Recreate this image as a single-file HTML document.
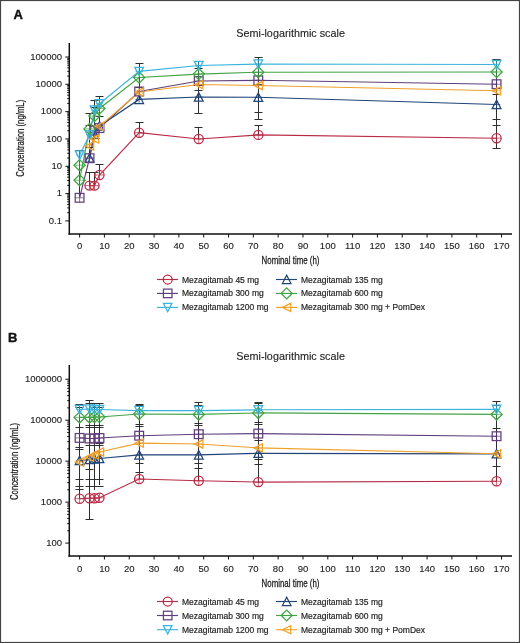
<!DOCTYPE html>
<html><head><meta charset="utf-8"><style>
html,body{margin:0;padding:0;background:#fff;}
svg{display:block;will-change:transform;}
</style></head><body>
<svg width="520" height="643" viewBox="0 0 520 643" font-family='"Liberation Sans", sans-serif'>
<rect x="0" y="0" width="520" height="643" fill="#fff"/>
<text x="13.5" y="19.3" font-size="13" font-weight="bold" fill="#111" stroke="#111" stroke-width="0.4">A</text>
<text x="290.6" y="37.3" font-size="10.8" fill="#222" stroke="#222" stroke-width="0.12" text-anchor="middle">Semi-logarithmic scale</text>
<path d="M69.3 43V234.7" stroke="#111" stroke-width="1.5" fill="none"/>
<path d="M68.5 234H512" stroke="#111" stroke-width="1.5" fill="none"/>
<text x="62" y="223.72" font-size="9.5" fill="#222" stroke="#222" stroke-width="0.12" text-anchor="end">0.1</text>
<text x="62" y="196.40" font-size="9.5" fill="#222" stroke="#222" stroke-width="0.12" text-anchor="end">1</text>
<text x="62" y="169.08" font-size="9.5" fill="#222" stroke="#222" stroke-width="0.12" text-anchor="end">10</text>
<text x="62" y="141.76" font-size="9.5" fill="#222" stroke="#222" stroke-width="0.12" text-anchor="end">100</text>
<text x="62" y="114.44" font-size="9.5" fill="#222" stroke="#222" stroke-width="0.12" text-anchor="end">1000</text>
<text x="62" y="87.12" font-size="9.5" fill="#222" stroke="#222" stroke-width="0.12" text-anchor="end">10000</text>
<text x="62" y="59.80" font-size="9.5" fill="#222" stroke="#222" stroke-width="0.12" text-anchor="end">100000</text>
<path d="M65.3 220.92H69 M65.3 193.60H69 M65.3 166.28H69 M65.3 138.96H69 M65.3 111.64H69 M65.3 84.32H69 M65.3 57.00H69 M67.2 212.70H69 M67.2 207.89H69 M67.2 204.47H69 M67.2 201.82H69 M67.2 199.66H69 M67.2 197.83H69 M67.2 196.25H69 M67.2 194.85H69 M67.2 185.38H69 M67.2 180.57H69 M67.2 177.15H69 M67.2 174.50H69 M67.2 172.34H69 M67.2 170.51H69 M67.2 168.93H69 M67.2 167.53H69 M67.2 158.06H69 M67.2 153.25H69 M67.2 149.83H69 M67.2 147.18H69 M67.2 145.02H69 M67.2 143.19H69 M67.2 141.61H69 M67.2 140.21H69 M67.2 130.74H69 M67.2 125.93H69 M67.2 122.51H69 M67.2 119.86H69 M67.2 117.70H69 M67.2 115.87H69 M67.2 114.29H69 M67.2 112.89H69 M67.2 103.42H69 M67.2 98.61H69 M67.2 95.19H69 M67.2 92.54H69 M67.2 90.38H69 M67.2 88.55H69 M67.2 86.97H69 M67.2 85.57H69 M67.2 76.10H69 M67.2 71.29H69 M67.2 67.87H69 M67.2 65.22H69 M67.2 63.06H69 M67.2 61.23H69 M67.2 59.65H69 M67.2 58.25H69" stroke="#111" stroke-width="1" fill="none"/>
<text x="79.60" y="249.3" font-size="9.5" fill="#222" stroke="#222" stroke-width="0.12" text-anchor="middle">0</text>
<text x="104.42" y="249.3" font-size="9.5" fill="#222" stroke="#222" stroke-width="0.12" text-anchor="middle">10</text>
<text x="129.24" y="249.3" font-size="9.5" fill="#222" stroke="#222" stroke-width="0.12" text-anchor="middle">20</text>
<text x="154.06" y="249.3" font-size="9.5" fill="#222" stroke="#222" stroke-width="0.12" text-anchor="middle">30</text>
<text x="178.88" y="249.3" font-size="9.5" fill="#222" stroke="#222" stroke-width="0.12" text-anchor="middle">40</text>
<text x="203.70" y="249.3" font-size="9.5" fill="#222" stroke="#222" stroke-width="0.12" text-anchor="middle">50</text>
<text x="228.52" y="249.3" font-size="9.5" fill="#222" stroke="#222" stroke-width="0.12" text-anchor="middle">60</text>
<text x="253.34" y="249.3" font-size="9.5" fill="#222" stroke="#222" stroke-width="0.12" text-anchor="middle">70</text>
<text x="278.16" y="249.3" font-size="9.5" fill="#222" stroke="#222" stroke-width="0.12" text-anchor="middle">80</text>
<text x="302.98" y="249.3" font-size="9.5" fill="#222" stroke="#222" stroke-width="0.12" text-anchor="middle">90</text>
<text x="327.80" y="249.3" font-size="9.5" fill="#222" stroke="#222" stroke-width="0.12" text-anchor="middle">100</text>
<text x="352.62" y="249.3" font-size="9.5" fill="#222" stroke="#222" stroke-width="0.12" text-anchor="middle">110</text>
<text x="377.44" y="249.3" font-size="9.5" fill="#222" stroke="#222" stroke-width="0.12" text-anchor="middle">120</text>
<text x="402.26" y="249.3" font-size="9.5" fill="#222" stroke="#222" stroke-width="0.12" text-anchor="middle">130</text>
<text x="427.08" y="249.3" font-size="9.5" fill="#222" stroke="#222" stroke-width="0.12" text-anchor="middle">140</text>
<text x="451.90" y="249.3" font-size="9.5" fill="#222" stroke="#222" stroke-width="0.12" text-anchor="middle">150</text>
<text x="476.72" y="249.3" font-size="9.5" fill="#222" stroke="#222" stroke-width="0.12" text-anchor="middle">160</text>
<text x="501.54" y="249.3" font-size="9.5" fill="#222" stroke="#222" stroke-width="0.12" text-anchor="middle">170</text>
<path d="M79.60 234V237.5 M104.42 234V237.5 M129.24 234V237.5 M154.06 234V237.5 M178.88 234V237.5 M203.70 234V237.5 M228.52 234V237.5 M253.34 234V237.5 M278.16 234V237.5 M302.98 234V237.5 M327.80 234V237.5 M352.62 234V237.5 M377.44 234V237.5 M402.26 234V237.5 M427.08 234V237.5 M451.90 234V237.5 M476.72 234V237.5 M501.54 234V237.5" stroke="#111" stroke-width="1" fill="none"/>
<text x="0" y="0" font-size="10.2" fill="#1a1a1a" stroke="#1a1a1a" stroke-width="0.25" text-anchor="middle" transform="translate(290.5 264.4) scale(0.775 1)">Nominal time (h)</text>
<text x="0" y="0" font-size="10.2" fill="#1a1a1a" stroke="#1a1a1a" stroke-width="0.25" text-anchor="middle" transform="translate(20.5 138.3) rotate(-90) scale(0.76 1) translate(0 3.6)">Concentration (ng/mL)</text>
<path d="M89.53 185.60L94.49 185.60L99.46 175.00L139.17 132.70L198.74 139.00L258.30 134.90L496.58 138.20" stroke="#b92b45" stroke-width="1.15" fill="none"/>
<path d="M89.53 158.06L94.49 134.15L99.46 125.93L139.17 99.40L198.74 97.00L258.30 97.30L496.58 104.50" stroke="#214578" stroke-width="1.15" fill="none"/>
<path d="M79.60 197.80L89.53 158.20L94.49 130.74L99.46 128.09L139.17 91.50L198.74 81.00L258.30 80.30L496.58 84.20" stroke="#603f7c" stroke-width="1.15" fill="none"/>
<path d="M79.60 180.20L89.53 128.90L94.49 116.00L99.46 108.50L139.17 77.50L198.74 74.10L258.30 72.20L496.58 72.00" stroke="#42a444" stroke-width="1.15" fill="none"/>
<path d="M79.60 155.00L89.53 135.00L94.49 110.00L99.46 103.70L139.17 71.40L198.74 65.50L258.30 64.00L496.58 64.50" stroke="#3ab4dc" stroke-width="1.15" fill="none"/>
<path d="M89.53 146.05L94.49 138.96L99.46 126.33L139.17 92.00L198.74 84.50L258.30 85.50L496.58 90.80" stroke="#f0a22a" stroke-width="1.15" fill="none"/>
<path d="M79.50 150.70V196.00 M89.50 113.00V158.00 M89.50 172.20V185.60 M94.50 100.40V125.00 M94.50 172.20V185.60 M99.50 96.70V127.00 M99.50 164.80V175.00 M139.50 63.50V99.40 M139.50 122.70V132.70 M198.50 61.20V113.00 M198.50 127.40V139.00 M258.50 57.10V119.30 M258.50 125.60V134.90 M496.50 59.00V148.90" stroke="#2e2e2e" stroke-width="1" fill="none"/>
<path d="M75.50 150.50H83.50 M85.50 113.50H93.50 M85.50 125.50H93.50 M85.50 147.50H93.50 M85.50 172.50H93.50 M90.50 100.50H98.50 M90.50 107.50H98.50 M90.50 172.50H98.50 M95.50 96.50H103.50 M95.50 116.50H103.50 M95.50 164.50H103.50 M135.50 63.50H143.50 M135.50 87.50H143.50 M135.50 122.50H143.50 M194.50 61.50H202.50 M194.50 68.50H202.50 M194.50 90.50H202.50 M194.50 113.50H202.50 M194.50 127.50H202.50 M254.50 57.50H262.50 M254.50 112.50H262.50 M254.50 119.50H262.50 M254.50 125.50H262.50 M492.50 59.50H500.50 M492.50 94.50H500.50 M492.50 119.50H500.50 M492.50 125.50H500.50 M492.50 148.50H500.50" stroke="#2e2e2e" stroke-width="1.1" fill="none"/>
<circle cx="89.53" cy="185.60" r="4.60" fill="none" stroke="#b92b45" stroke-width="1.25"/><path d="M84.93 185.60H94.13M89.53 181.00V190.20" stroke="#b92b45" stroke-width="0.7" fill="none"/>
<circle cx="94.49" cy="185.60" r="4.60" fill="none" stroke="#b92b45" stroke-width="1.25"/><path d="M89.89 185.60H99.09M94.49 181.00V190.20" stroke="#b92b45" stroke-width="0.7" fill="none"/>
<circle cx="99.46" cy="175.00" r="4.60" fill="none" stroke="#b92b45" stroke-width="1.25"/><path d="M94.86 175.00H104.06M99.46 170.40V179.60" stroke="#b92b45" stroke-width="0.7" fill="none"/>
<circle cx="139.17" cy="132.70" r="4.60" fill="none" stroke="#b92b45" stroke-width="1.25"/><path d="M134.57 132.70H143.77M139.17 128.10V137.30" stroke="#b92b45" stroke-width="0.7" fill="none"/>
<circle cx="198.74" cy="139.00" r="4.60" fill="none" stroke="#b92b45" stroke-width="1.25"/><path d="M194.14 139.00H203.34M198.74 134.40V143.60" stroke="#b92b45" stroke-width="0.7" fill="none"/>
<circle cx="258.30" cy="134.90" r="4.60" fill="none" stroke="#b92b45" stroke-width="1.25"/><path d="M253.70 134.90H262.90M258.30 130.30V139.50" stroke="#b92b45" stroke-width="0.7" fill="none"/>
<circle cx="496.58" cy="138.20" r="4.60" fill="none" stroke="#b92b45" stroke-width="1.25"/><path d="M491.98 138.20H501.18M496.58 133.60V142.80" stroke="#b92b45" stroke-width="0.7" fill="none"/>
<path d="M89.53 153.69L93.90 162.20L85.16 162.20Z" fill="none" stroke="#214578" stroke-width="1.25"/><path d="M85.85 158.06H93.21M89.53 154.38V161.74" stroke="#214578" stroke-width="0.7" fill="none"/>
<path d="M94.49 129.78L98.86 138.29L90.12 138.29Z" fill="none" stroke="#214578" stroke-width="1.25"/><path d="M90.81 134.15H98.17M94.49 130.47V137.83" stroke="#214578" stroke-width="0.7" fill="none"/>
<path d="M99.46 121.56L103.83 130.07L95.09 130.07Z" fill="none" stroke="#214578" stroke-width="1.25"/><path d="M95.78 125.93H103.14M99.46 122.25V129.61" stroke="#214578" stroke-width="0.7" fill="none"/>
<path d="M139.17 95.03L143.54 103.54L134.80 103.54Z" fill="none" stroke="#214578" stroke-width="1.25"/><path d="M135.49 99.40H142.85M139.17 95.72V103.08" stroke="#214578" stroke-width="0.7" fill="none"/>
<path d="M198.74 92.63L203.11 101.14L194.37 101.14Z" fill="none" stroke="#214578" stroke-width="1.25"/><path d="M195.06 97.00H202.42M198.74 93.32V100.68" stroke="#214578" stroke-width="0.7" fill="none"/>
<path d="M258.30 92.93L262.67 101.44L253.93 101.44Z" fill="none" stroke="#214578" stroke-width="1.25"/><path d="M254.62 97.30H261.98M258.30 93.62V100.98" stroke="#214578" stroke-width="0.7" fill="none"/>
<path d="M496.58 100.13L500.95 108.64L492.21 108.64Z" fill="none" stroke="#214578" stroke-width="1.25"/><path d="M492.90 104.50H500.26M496.58 100.82V108.18" stroke="#214578" stroke-width="0.7" fill="none"/>
<rect x="75.23" y="193.43" width="8.74" height="8.74" fill="none" stroke="#603f7c" stroke-width="1.25"/><path d="M75.23 197.80H83.97M79.60 193.43V202.17" stroke="#603f7c" stroke-width="0.7" fill="none"/>
<rect x="85.16" y="153.83" width="8.74" height="8.74" fill="none" stroke="#603f7c" stroke-width="1.25"/><path d="M85.16 158.20H93.90M89.53 153.83V162.57" stroke="#603f7c" stroke-width="0.7" fill="none"/>
<rect x="90.12" y="126.37" width="8.74" height="8.74" fill="none" stroke="#603f7c" stroke-width="1.25"/><path d="M90.12 130.74H98.86M94.49 126.37V135.11" stroke="#603f7c" stroke-width="0.7" fill="none"/>
<rect x="95.09" y="123.72" width="8.74" height="8.74" fill="none" stroke="#603f7c" stroke-width="1.25"/><path d="M95.09 128.09H103.83M99.46 123.72V132.46" stroke="#603f7c" stroke-width="0.7" fill="none"/>
<rect x="134.80" y="87.13" width="8.74" height="8.74" fill="none" stroke="#603f7c" stroke-width="1.25"/><path d="M134.80 91.50H143.54M139.17 87.13V95.87" stroke="#603f7c" stroke-width="0.7" fill="none"/>
<rect x="194.37" y="76.63" width="8.74" height="8.74" fill="none" stroke="#603f7c" stroke-width="1.25"/><path d="M194.37 81.00H203.11M198.74 76.63V85.37" stroke="#603f7c" stroke-width="0.7" fill="none"/>
<rect x="253.93" y="75.93" width="8.74" height="8.74" fill="none" stroke="#603f7c" stroke-width="1.25"/><path d="M253.93 80.30H262.67M258.30 75.93V84.67" stroke="#603f7c" stroke-width="0.7" fill="none"/>
<rect x="492.21" y="79.83" width="8.74" height="8.74" fill="none" stroke="#603f7c" stroke-width="1.25"/><path d="M492.21 84.20H500.95M496.58 79.83V88.57" stroke="#603f7c" stroke-width="0.7" fill="none"/>
<path d="M73.99 180.20L79.60 174.59L85.21 180.20L79.60 185.81Z" fill="none" stroke="#42a444" stroke-width="1.25"/><path d="M73.99 180.20H85.21M79.60 174.59V185.81" stroke="#42a444" stroke-width="0.7" fill="none"/>
<path d="M83.92 128.90L89.53 123.29L95.14 128.90L89.53 134.51Z" fill="none" stroke="#42a444" stroke-width="1.25"/><path d="M83.92 128.90H95.14M89.53 123.29V134.51" stroke="#42a444" stroke-width="0.7" fill="none"/>
<path d="M88.88 116.00L94.49 110.39L100.10 116.00L94.49 121.61Z" fill="none" stroke="#42a444" stroke-width="1.25"/><path d="M88.88 116.00H100.10M94.49 110.39V121.61" stroke="#42a444" stroke-width="0.7" fill="none"/>
<path d="M93.84 108.50L99.46 102.89L105.07 108.50L99.46 114.11Z" fill="none" stroke="#42a444" stroke-width="1.25"/><path d="M93.84 108.50H105.07M99.46 102.89V114.11" stroke="#42a444" stroke-width="0.7" fill="none"/>
<path d="M133.56 77.50L139.17 71.89L144.78 77.50L139.17 83.11Z" fill="none" stroke="#42a444" stroke-width="1.25"/><path d="M133.56 77.50H144.78M139.17 71.89V83.11" stroke="#42a444" stroke-width="0.7" fill="none"/>
<path d="M193.12 74.10L198.74 68.49L204.35 74.10L198.74 79.71Z" fill="none" stroke="#42a444" stroke-width="1.25"/><path d="M193.12 74.10H204.35M198.74 68.49V79.71" stroke="#42a444" stroke-width="0.7" fill="none"/>
<path d="M252.69 72.20L258.30 66.59L263.92 72.20L258.30 77.81Z" fill="none" stroke="#42a444" stroke-width="1.25"/><path d="M252.69 72.20H263.92M258.30 66.59V77.81" stroke="#42a444" stroke-width="0.7" fill="none"/>
<path d="M490.96 72.00L496.58 66.39L502.19 72.00L496.58 77.61Z" fill="none" stroke="#42a444" stroke-width="1.25"/><path d="M490.96 72.00H502.19M496.58 66.39V77.61" stroke="#42a444" stroke-width="0.7" fill="none"/>
<path d="M79.60 159.37L83.97 150.86L75.23 150.86Z" fill="none" stroke="#3ab4dc" stroke-width="1.25"/><path d="M75.92 155.00H83.28M79.60 151.32V158.68" stroke="#3ab4dc" stroke-width="0.7" fill="none"/>
<path d="M89.53 139.37L93.90 130.86L85.16 130.86Z" fill="none" stroke="#3ab4dc" stroke-width="1.25"/><path d="M85.85 135.00H93.21M89.53 131.32V138.68" stroke="#3ab4dc" stroke-width="0.7" fill="none"/>
<path d="M94.49 114.37L98.86 105.86L90.12 105.86Z" fill="none" stroke="#3ab4dc" stroke-width="1.25"/><path d="M90.81 110.00H98.17M94.49 106.32V113.68" stroke="#3ab4dc" stroke-width="0.7" fill="none"/>
<path d="M99.46 108.07L103.83 99.56L95.09 99.56Z" fill="none" stroke="#3ab4dc" stroke-width="1.25"/><path d="M95.78 103.70H103.14M99.46 100.02V107.38" stroke="#3ab4dc" stroke-width="0.7" fill="none"/>
<path d="M139.17 75.77L143.54 67.26L134.80 67.26Z" fill="none" stroke="#3ab4dc" stroke-width="1.25"/><path d="M135.49 71.40H142.85M139.17 67.72V75.08" stroke="#3ab4dc" stroke-width="0.7" fill="none"/>
<path d="M198.74 69.87L203.11 61.36L194.37 61.36Z" fill="none" stroke="#3ab4dc" stroke-width="1.25"/><path d="M195.06 65.50H202.42M198.74 61.82V69.18" stroke="#3ab4dc" stroke-width="0.7" fill="none"/>
<path d="M258.30 68.37L262.67 59.86L253.93 59.86Z" fill="none" stroke="#3ab4dc" stroke-width="1.25"/><path d="M254.62 64.00H261.98M258.30 60.32V67.68" stroke="#3ab4dc" stroke-width="0.7" fill="none"/>
<path d="M496.58 68.87L500.95 60.36L492.21 60.36Z" fill="none" stroke="#3ab4dc" stroke-width="1.25"/><path d="M492.90 64.50H500.26M496.58 60.82V68.18" stroke="#3ab4dc" stroke-width="0.7" fill="none"/>
<path d="M85.16 146.05L93.67 141.91L93.67 150.19Z" fill="none" stroke="#f0a22a" stroke-width="1.25"/><path d="M85.85 146.05H93.21M89.53 142.37V149.73" stroke="#f0a22a" stroke-width="0.7" fill="none"/>
<path d="M90.12 138.96L98.63 134.82L98.63 143.10Z" fill="none" stroke="#f0a22a" stroke-width="1.25"/><path d="M90.81 138.96H98.17M94.49 135.28V142.64" stroke="#f0a22a" stroke-width="0.7" fill="none"/>
<path d="M95.09 126.33L103.60 122.19L103.60 130.47Z" fill="none" stroke="#f0a22a" stroke-width="1.25"/><path d="M95.78 126.33H103.14M99.46 122.65V130.01" stroke="#f0a22a" stroke-width="0.7" fill="none"/>
<path d="M134.80 92.00L143.31 87.86L143.31 96.14Z" fill="none" stroke="#f0a22a" stroke-width="1.25"/><path d="M135.49 92.00H142.85M139.17 88.32V95.68" stroke="#f0a22a" stroke-width="0.7" fill="none"/>
<path d="M194.37 84.50L202.88 80.36L202.88 88.64Z" fill="none" stroke="#f0a22a" stroke-width="1.25"/><path d="M195.06 84.50H202.42M198.74 80.82V88.18" stroke="#f0a22a" stroke-width="0.7" fill="none"/>
<path d="M253.93 85.50L262.44 81.36L262.44 89.64Z" fill="none" stroke="#f0a22a" stroke-width="1.25"/><path d="M254.62 85.50H261.98M258.30 81.82V89.18" stroke="#f0a22a" stroke-width="0.7" fill="none"/>
<path d="M492.21 90.80L500.72 86.66L500.72 94.94Z" fill="none" stroke="#f0a22a" stroke-width="1.25"/><path d="M492.90 90.80H500.26M496.58 87.12V94.48" stroke="#f0a22a" stroke-width="0.7" fill="none"/>
<path d="M73.99 165.20L79.60 159.59L85.21 165.20L79.60 170.81Z" fill="none" stroke="#42a444" stroke-width="1.25"/><path d="M73.99 165.20H85.21M79.60 159.59V170.81" stroke="#42a444" stroke-width="0.7" fill="none"/>
<path d="M157 279.5H178" stroke="#b92b45" stroke-width="1.15"/>
<circle cx="167.70" cy="279.50" r="4.50" fill="none" stroke="#b92b45" stroke-width="1.25"/>
<text x="182" y="282.5" font-size="8.5" fill="#1e1e1e" stroke="#1e1e1e" stroke-width="0.18">Mezagitamab 45 mg</text>
<path d="M157 293.4H178" stroke="#603f7c" stroke-width="1.15"/>
<rect x="163.42" y="289.12" width="8.55" height="8.55" fill="none" stroke="#603f7c" stroke-width="1.25"/>
<text x="182" y="296.4" font-size="8.5" fill="#1e1e1e" stroke="#1e1e1e" stroke-width="0.18">Mezagitamab 300 mg</text>
<path d="M157 307.4H178" stroke="#3ab4dc" stroke-width="1.15"/>
<path d="M167.70 311.67L171.97 303.35L163.42 303.35Z" fill="none" stroke="#3ab4dc" stroke-width="1.25"/>
<text x="182" y="310.4" font-size="8.5" fill="#1e1e1e" stroke="#1e1e1e" stroke-width="0.18">Mezagitamab 1200 mg</text>
<path d="M276 279.5H297" stroke="#214578" stroke-width="1.15"/>
<path d="M286.70 275.23L290.97 283.55L282.43 283.55Z" fill="none" stroke="#214578" stroke-width="1.25"/>
<text x="301" y="282.5" font-size="8.5" fill="#1e1e1e" stroke="#1e1e1e" stroke-width="0.18">Mezagitamab 135 mg</text>
<path d="M276 293.4H297" stroke="#42a444" stroke-width="1.15"/>
<path d="M281.21 293.40L286.70 287.91L292.19 293.40L286.70 298.89Z" fill="none" stroke="#42a444" stroke-width="1.25"/>
<text x="301" y="296.4" font-size="8.5" fill="#1e1e1e" stroke="#1e1e1e" stroke-width="0.18">Mezagitamab 600 mg</text>
<path d="M276 307.4H297" stroke="#f0a22a" stroke-width="1.15"/>
<path d="M282.43 307.40L290.75 303.35L290.75 311.45Z" fill="none" stroke="#f0a22a" stroke-width="1.25"/>
<text x="301" y="310.4" font-size="8.5" fill="#1e1e1e" stroke="#1e1e1e" stroke-width="0.18">Mezagitamab 300 mg + PomDex</text>
<text x="8.0" y="341.9" font-size="13" font-weight="bold" fill="#111" stroke="#111" stroke-width="0.4">B</text>
<text x="290.6" y="359.6" font-size="10.8" fill="#222" stroke="#222" stroke-width="0.12" text-anchor="middle">Semi-logarithmic scale</text>
<path d="M69.3 365V556.7" stroke="#111" stroke-width="1.5" fill="none"/>
<path d="M68.5 556H512" stroke="#111" stroke-width="1.5" fill="none"/>
<text x="62" y="545.90" font-size="9.5" fill="#222" stroke="#222" stroke-width="0.12" text-anchor="end">100</text>
<text x="62" y="504.93" font-size="9.5" fill="#222" stroke="#222" stroke-width="0.12" text-anchor="end">1000</text>
<text x="62" y="463.96" font-size="9.5" fill="#222" stroke="#222" stroke-width="0.12" text-anchor="end">10000</text>
<text x="62" y="422.99" font-size="9.5" fill="#222" stroke="#222" stroke-width="0.12" text-anchor="end">100000</text>
<text x="62" y="382.02" font-size="9.5" fill="#222" stroke="#222" stroke-width="0.12" text-anchor="end">1000000</text>
<path d="M65.3 543.10H69 M65.3 502.13H69 M65.3 461.16H69 M65.3 420.19H69 M65.3 379.22H69 M67.2 530.77H69 M67.2 523.55H69 M67.2 518.43H69 M67.2 514.46H69 M67.2 511.22H69 M67.2 508.48H69 M67.2 506.10H69 M67.2 504.00H69 M67.2 489.80H69 M67.2 482.58H69 M67.2 477.46H69 M67.2 473.49H69 M67.2 470.25H69 M67.2 467.51H69 M67.2 465.13H69 M67.2 463.03H69 M67.2 448.83H69 M67.2 441.61H69 M67.2 436.49H69 M67.2 432.52H69 M67.2 429.28H69 M67.2 426.54H69 M67.2 424.16H69 M67.2 422.06H69 M67.2 407.86H69 M67.2 400.64H69 M67.2 395.52H69 M67.2 391.55H69 M67.2 388.31H69 M67.2 385.57H69 M67.2 383.19H69 M67.2 381.09H69" stroke="#111" stroke-width="1" fill="none"/>
<text x="79.60" y="571.7" font-size="9.5" fill="#222" stroke="#222" stroke-width="0.12" text-anchor="middle">0</text>
<text x="104.42" y="571.7" font-size="9.5" fill="#222" stroke="#222" stroke-width="0.12" text-anchor="middle">10</text>
<text x="129.24" y="571.7" font-size="9.5" fill="#222" stroke="#222" stroke-width="0.12" text-anchor="middle">20</text>
<text x="154.06" y="571.7" font-size="9.5" fill="#222" stroke="#222" stroke-width="0.12" text-anchor="middle">30</text>
<text x="178.88" y="571.7" font-size="9.5" fill="#222" stroke="#222" stroke-width="0.12" text-anchor="middle">40</text>
<text x="203.70" y="571.7" font-size="9.5" fill="#222" stroke="#222" stroke-width="0.12" text-anchor="middle">50</text>
<text x="228.52" y="571.7" font-size="9.5" fill="#222" stroke="#222" stroke-width="0.12" text-anchor="middle">60</text>
<text x="253.34" y="571.7" font-size="9.5" fill="#222" stroke="#222" stroke-width="0.12" text-anchor="middle">70</text>
<text x="278.16" y="571.7" font-size="9.5" fill="#222" stroke="#222" stroke-width="0.12" text-anchor="middle">80</text>
<text x="302.98" y="571.7" font-size="9.5" fill="#222" stroke="#222" stroke-width="0.12" text-anchor="middle">90</text>
<text x="327.80" y="571.7" font-size="9.5" fill="#222" stroke="#222" stroke-width="0.12" text-anchor="middle">100</text>
<text x="352.62" y="571.7" font-size="9.5" fill="#222" stroke="#222" stroke-width="0.12" text-anchor="middle">110</text>
<text x="377.44" y="571.7" font-size="9.5" fill="#222" stroke="#222" stroke-width="0.12" text-anchor="middle">120</text>
<text x="402.26" y="571.7" font-size="9.5" fill="#222" stroke="#222" stroke-width="0.12" text-anchor="middle">130</text>
<text x="427.08" y="571.7" font-size="9.5" fill="#222" stroke="#222" stroke-width="0.12" text-anchor="middle">140</text>
<text x="451.90" y="571.7" font-size="9.5" fill="#222" stroke="#222" stroke-width="0.12" text-anchor="middle">150</text>
<text x="476.72" y="571.7" font-size="9.5" fill="#222" stroke="#222" stroke-width="0.12" text-anchor="middle">160</text>
<text x="501.54" y="571.7" font-size="9.5" fill="#222" stroke="#222" stroke-width="0.12" text-anchor="middle">170</text>
<path d="M79.60 556V559.5 M104.42 556V559.5 M129.24 556V559.5 M154.06 556V559.5 M178.88 556V559.5 M203.70 556V559.5 M228.52 556V559.5 M253.34 556V559.5 M278.16 556V559.5 M302.98 556V559.5 M327.80 556V559.5 M352.62 556V559.5 M377.44 556V559.5 M402.26 556V559.5 M427.08 556V559.5 M451.90 556V559.5 M476.72 556V559.5 M501.54 556V559.5" stroke="#111" stroke-width="1" fill="none"/>
<text x="0" y="0" font-size="10.2" fill="#1a1a1a" stroke="#1a1a1a" stroke-width="0.25" text-anchor="middle" transform="translate(290.5 586.5) scale(0.775 1)">Nominal time (h)</text>
<text x="0" y="0" font-size="10.2" fill="#1a1a1a" stroke="#1a1a1a" stroke-width="0.25" text-anchor="middle" transform="translate(14.4 461.5) rotate(-90) scale(0.76 1) translate(0 3.6)">Concentration (ng/mL)</text>
<path d="M79.60 498.70L89.53 498.20L94.49 498.20L99.46 497.80L139.17 479.00L198.74 480.80L258.30 482.10L496.58 481.30" stroke="#b92b45" stroke-width="1.15" fill="none"/>
<path d="M79.60 460.50L89.53 459.60L94.49 459.00L99.46 458.50L139.17 454.90L198.74 454.90L258.30 453.30L496.58 453.80" stroke="#214578" stroke-width="1.15" fill="none"/>
<path d="M79.60 437.90L89.53 438.50L94.49 438.50L99.46 438.00L139.17 435.70L198.74 434.20L258.30 433.60L496.58 436.20" stroke="#603f7c" stroke-width="1.15" fill="none"/>
<path d="M79.60 417.40L89.53 417.40L94.49 417.00L99.46 417.00L139.17 414.00L198.74 414.40L258.30 412.90L496.58 414.40" stroke="#42a444" stroke-width="1.15" fill="none"/>
<path d="M79.60 409.50L89.53 409.00L94.49 409.50L99.46 409.50L139.17 410.60L198.74 410.60L258.30 409.80L496.58 409.30" stroke="#3ab4dc" stroke-width="1.15" fill="none"/>
<path d="M79.60 462.00L89.53 457.00L94.49 455.00L99.46 452.00L139.17 443.20L198.74 444.00L258.30 447.90L496.58 453.80" stroke="#f0a22a" stroke-width="1.15" fill="none"/>
<path d="M79.50 404.70V498.70 M89.50 400.60V519.70 M94.50 403.00V490.00 M99.50 403.00V485.00 M139.50 404.30V479.00 M198.50 402.80V480.80 M258.50 402.00V482.10 M496.50 401.20V481.30" stroke="#2e2e2e" stroke-width="1" fill="none"/>
<path d="M75.50 404.50H83.50 M75.50 407.50H83.50 M75.50 427.50H83.50 M75.50 447.50H83.50 M75.50 449.50H83.50 M75.50 479.50H83.50 M75.50 486.50H83.50 M75.50 489.50H83.50 M85.50 400.50H93.50 M85.50 403.50H93.50 M85.50 425.50H93.50 M85.50 427.50H93.50 M85.50 445.50H93.50 M85.50 469.50H93.50 M85.50 479.50H93.50 M85.50 486.50H93.50 M85.50 519.50H93.50 M90.50 403.50H98.50 M90.50 407.50H98.50 M90.50 425.50H98.50 M90.50 427.50H98.50 M90.50 445.50H98.50 M90.50 479.50H98.50 M90.50 486.50H98.50 M95.50 403.50H103.50 M95.50 407.50H103.50 M95.50 425.50H103.50 M95.50 427.50H103.50 M95.50 443.50H103.50 M95.50 445.50H103.50 M95.50 479.50H103.50 M95.50 486.50H103.50 M135.50 404.50H143.50 M135.50 405.50H143.50 M135.50 424.50H143.50 M135.50 426.50H143.50 M135.50 463.50H143.50 M135.50 472.50H143.50 M194.50 402.50H202.50 M194.50 405.50H202.50 M194.50 423.50H202.50 M194.50 425.50H202.50 M194.50 463.50H202.50 M194.50 468.50H202.50 M254.50 402.50H262.50 M254.50 403.50H262.50 M254.50 422.50H262.50 M254.50 424.50H262.50 M254.50 440.50H262.50 M254.50 459.50H262.50 M254.50 464.50H262.50 M492.50 401.50H500.50 M492.50 405.50H500.50 M492.50 428.50H500.50 M492.50 466.50H500.50" stroke="#2e2e2e" stroke-width="1.1" fill="none"/>
<circle cx="79.60" cy="498.70" r="4.60" fill="none" stroke="#b92b45" stroke-width="1.25"/><path d="M75.00 498.70H84.20M79.60 494.10V503.30" stroke="#b92b45" stroke-width="0.7" fill="none"/>
<circle cx="89.53" cy="498.20" r="4.60" fill="none" stroke="#b92b45" stroke-width="1.25"/><path d="M84.93 498.20H94.13M89.53 493.60V502.80" stroke="#b92b45" stroke-width="0.7" fill="none"/>
<circle cx="94.49" cy="498.20" r="4.60" fill="none" stroke="#b92b45" stroke-width="1.25"/><path d="M89.89 498.20H99.09M94.49 493.60V502.80" stroke="#b92b45" stroke-width="0.7" fill="none"/>
<circle cx="99.46" cy="497.80" r="4.60" fill="none" stroke="#b92b45" stroke-width="1.25"/><path d="M94.86 497.80H104.06M99.46 493.20V502.40" stroke="#b92b45" stroke-width="0.7" fill="none"/>
<circle cx="139.17" cy="479.00" r="4.60" fill="none" stroke="#b92b45" stroke-width="1.25"/><path d="M134.57 479.00H143.77M139.17 474.40V483.60" stroke="#b92b45" stroke-width="0.7" fill="none"/>
<circle cx="198.74" cy="480.80" r="4.60" fill="none" stroke="#b92b45" stroke-width="1.25"/><path d="M194.14 480.80H203.34M198.74 476.20V485.40" stroke="#b92b45" stroke-width="0.7" fill="none"/>
<circle cx="258.30" cy="482.10" r="4.60" fill="none" stroke="#b92b45" stroke-width="1.25"/><path d="M253.70 482.10H262.90M258.30 477.50V486.70" stroke="#b92b45" stroke-width="0.7" fill="none"/>
<circle cx="496.58" cy="481.30" r="4.60" fill="none" stroke="#b92b45" stroke-width="1.25"/><path d="M491.98 481.30H501.18M496.58 476.70V485.90" stroke="#b92b45" stroke-width="0.7" fill="none"/>
<path d="M79.60 456.13L83.97 464.64L75.23 464.64Z" fill="none" stroke="#214578" stroke-width="1.25"/><path d="M75.92 460.50H83.28M79.60 456.82V464.18" stroke="#214578" stroke-width="0.7" fill="none"/>
<path d="M89.53 455.23L93.90 463.74L85.16 463.74Z" fill="none" stroke="#214578" stroke-width="1.25"/><path d="M85.85 459.60H93.21M89.53 455.92V463.28" stroke="#214578" stroke-width="0.7" fill="none"/>
<path d="M94.49 454.63L98.86 463.14L90.12 463.14Z" fill="none" stroke="#214578" stroke-width="1.25"/><path d="M90.81 459.00H98.17M94.49 455.32V462.68" stroke="#214578" stroke-width="0.7" fill="none"/>
<path d="M99.46 454.13L103.83 462.64L95.09 462.64Z" fill="none" stroke="#214578" stroke-width="1.25"/><path d="M95.78 458.50H103.14M99.46 454.82V462.18" stroke="#214578" stroke-width="0.7" fill="none"/>
<path d="M139.17 450.53L143.54 459.04L134.80 459.04Z" fill="none" stroke="#214578" stroke-width="1.25"/><path d="M135.49 454.90H142.85M139.17 451.22V458.58" stroke="#214578" stroke-width="0.7" fill="none"/>
<path d="M198.74 450.53L203.11 459.04L194.37 459.04Z" fill="none" stroke="#214578" stroke-width="1.25"/><path d="M195.06 454.90H202.42M198.74 451.22V458.58" stroke="#214578" stroke-width="0.7" fill="none"/>
<path d="M258.30 448.93L262.67 457.44L253.93 457.44Z" fill="none" stroke="#214578" stroke-width="1.25"/><path d="M254.62 453.30H261.98M258.30 449.62V456.98" stroke="#214578" stroke-width="0.7" fill="none"/>
<path d="M496.58 449.43L500.95 457.94L492.21 457.94Z" fill="none" stroke="#214578" stroke-width="1.25"/><path d="M492.90 453.80H500.26M496.58 450.12V457.48" stroke="#214578" stroke-width="0.7" fill="none"/>
<rect x="75.23" y="433.53" width="8.74" height="8.74" fill="none" stroke="#603f7c" stroke-width="1.25"/><path d="M75.23 437.90H83.97M79.60 433.53V442.27" stroke="#603f7c" stroke-width="0.7" fill="none"/>
<rect x="85.16" y="434.13" width="8.74" height="8.74" fill="none" stroke="#603f7c" stroke-width="1.25"/><path d="M85.16 438.50H93.90M89.53 434.13V442.87" stroke="#603f7c" stroke-width="0.7" fill="none"/>
<rect x="90.12" y="434.13" width="8.74" height="8.74" fill="none" stroke="#603f7c" stroke-width="1.25"/><path d="M90.12 438.50H98.86M94.49 434.13V442.87" stroke="#603f7c" stroke-width="0.7" fill="none"/>
<rect x="95.09" y="433.63" width="8.74" height="8.74" fill="none" stroke="#603f7c" stroke-width="1.25"/><path d="M95.09 438.00H103.83M99.46 433.63V442.37" stroke="#603f7c" stroke-width="0.7" fill="none"/>
<rect x="134.80" y="431.33" width="8.74" height="8.74" fill="none" stroke="#603f7c" stroke-width="1.25"/><path d="M134.80 435.70H143.54M139.17 431.33V440.07" stroke="#603f7c" stroke-width="0.7" fill="none"/>
<rect x="194.37" y="429.83" width="8.74" height="8.74" fill="none" stroke="#603f7c" stroke-width="1.25"/><path d="M194.37 434.20H203.11M198.74 429.83V438.57" stroke="#603f7c" stroke-width="0.7" fill="none"/>
<rect x="253.93" y="429.23" width="8.74" height="8.74" fill="none" stroke="#603f7c" stroke-width="1.25"/><path d="M253.93 433.60H262.67M258.30 429.23V437.97" stroke="#603f7c" stroke-width="0.7" fill="none"/>
<rect x="492.21" y="431.83" width="8.74" height="8.74" fill="none" stroke="#603f7c" stroke-width="1.25"/><path d="M492.21 436.20H500.95M496.58 431.83V440.57" stroke="#603f7c" stroke-width="0.7" fill="none"/>
<path d="M73.99 417.40L79.60 411.79L85.21 417.40L79.60 423.01Z" fill="none" stroke="#42a444" stroke-width="1.25"/><path d="M73.99 417.40H85.21M79.60 411.79V423.01" stroke="#42a444" stroke-width="0.7" fill="none"/>
<path d="M83.92 417.40L89.53 411.79L95.14 417.40L89.53 423.01Z" fill="none" stroke="#42a444" stroke-width="1.25"/><path d="M83.92 417.40H95.14M89.53 411.79V423.01" stroke="#42a444" stroke-width="0.7" fill="none"/>
<path d="M88.88 417.00L94.49 411.39L100.10 417.00L94.49 422.61Z" fill="none" stroke="#42a444" stroke-width="1.25"/><path d="M88.88 417.00H100.10M94.49 411.39V422.61" stroke="#42a444" stroke-width="0.7" fill="none"/>
<path d="M93.84 417.00L99.46 411.39L105.07 417.00L99.46 422.61Z" fill="none" stroke="#42a444" stroke-width="1.25"/><path d="M93.84 417.00H105.07M99.46 411.39V422.61" stroke="#42a444" stroke-width="0.7" fill="none"/>
<path d="M133.56 414.00L139.17 408.39L144.78 414.00L139.17 419.61Z" fill="none" stroke="#42a444" stroke-width="1.25"/><path d="M133.56 414.00H144.78M139.17 408.39V419.61" stroke="#42a444" stroke-width="0.7" fill="none"/>
<path d="M193.12 414.40L198.74 408.79L204.35 414.40L198.74 420.01Z" fill="none" stroke="#42a444" stroke-width="1.25"/><path d="M193.12 414.40H204.35M198.74 408.79V420.01" stroke="#42a444" stroke-width="0.7" fill="none"/>
<path d="M252.69 412.90L258.30 407.29L263.92 412.90L258.30 418.51Z" fill="none" stroke="#42a444" stroke-width="1.25"/><path d="M252.69 412.90H263.92M258.30 407.29V418.51" stroke="#42a444" stroke-width="0.7" fill="none"/>
<path d="M490.96 414.40L496.58 408.79L502.19 414.40L496.58 420.01Z" fill="none" stroke="#42a444" stroke-width="1.25"/><path d="M490.96 414.40H502.19M496.58 408.79V420.01" stroke="#42a444" stroke-width="0.7" fill="none"/>
<path d="M79.60 413.87L83.97 405.36L75.23 405.36Z" fill="none" stroke="#3ab4dc" stroke-width="1.25"/><path d="M75.92 409.50H83.28M79.60 405.82V413.18" stroke="#3ab4dc" stroke-width="0.7" fill="none"/>
<path d="M89.53 413.37L93.90 404.86L85.16 404.86Z" fill="none" stroke="#3ab4dc" stroke-width="1.25"/><path d="M85.85 409.00H93.21M89.53 405.32V412.68" stroke="#3ab4dc" stroke-width="0.7" fill="none"/>
<path d="M94.49 413.87L98.86 405.36L90.12 405.36Z" fill="none" stroke="#3ab4dc" stroke-width="1.25"/><path d="M90.81 409.50H98.17M94.49 405.82V413.18" stroke="#3ab4dc" stroke-width="0.7" fill="none"/>
<path d="M99.46 413.87L103.83 405.36L95.09 405.36Z" fill="none" stroke="#3ab4dc" stroke-width="1.25"/><path d="M95.78 409.50H103.14M99.46 405.82V413.18" stroke="#3ab4dc" stroke-width="0.7" fill="none"/>
<path d="M139.17 414.97L143.54 406.46L134.80 406.46Z" fill="none" stroke="#3ab4dc" stroke-width="1.25"/><path d="M135.49 410.60H142.85M139.17 406.92V414.28" stroke="#3ab4dc" stroke-width="0.7" fill="none"/>
<path d="M198.74 414.97L203.11 406.46L194.37 406.46Z" fill="none" stroke="#3ab4dc" stroke-width="1.25"/><path d="M195.06 410.60H202.42M198.74 406.92V414.28" stroke="#3ab4dc" stroke-width="0.7" fill="none"/>
<path d="M258.30 414.17L262.67 405.66L253.93 405.66Z" fill="none" stroke="#3ab4dc" stroke-width="1.25"/><path d="M254.62 409.80H261.98M258.30 406.12V413.48" stroke="#3ab4dc" stroke-width="0.7" fill="none"/>
<path d="M496.58 413.67L500.95 405.16L492.21 405.16Z" fill="none" stroke="#3ab4dc" stroke-width="1.25"/><path d="M492.90 409.30H500.26M496.58 405.62V412.98" stroke="#3ab4dc" stroke-width="0.7" fill="none"/>
<path d="M75.23 462.00L83.74 457.86L83.74 466.14Z" fill="none" stroke="#f0a22a" stroke-width="1.25"/><path d="M75.92 462.00H83.28M79.60 458.32V465.68" stroke="#f0a22a" stroke-width="0.7" fill="none"/>
<path d="M85.16 457.00L93.67 452.86L93.67 461.14Z" fill="none" stroke="#f0a22a" stroke-width="1.25"/><path d="M85.85 457.00H93.21M89.53 453.32V460.68" stroke="#f0a22a" stroke-width="0.7" fill="none"/>
<path d="M90.12 455.00L98.63 450.86L98.63 459.14Z" fill="none" stroke="#f0a22a" stroke-width="1.25"/><path d="M90.81 455.00H98.17M94.49 451.32V458.68" stroke="#f0a22a" stroke-width="0.7" fill="none"/>
<path d="M95.09 452.00L103.60 447.86L103.60 456.14Z" fill="none" stroke="#f0a22a" stroke-width="1.25"/><path d="M95.78 452.00H103.14M99.46 448.32V455.68" stroke="#f0a22a" stroke-width="0.7" fill="none"/>
<path d="M134.80 443.20L143.31 439.06L143.31 447.34Z" fill="none" stroke="#f0a22a" stroke-width="1.25"/><path d="M135.49 443.20H142.85M139.17 439.52V446.88" stroke="#f0a22a" stroke-width="0.7" fill="none"/>
<path d="M194.37 444.00L202.88 439.86L202.88 448.14Z" fill="none" stroke="#f0a22a" stroke-width="1.25"/><path d="M195.06 444.00H202.42M198.74 440.32V447.68" stroke="#f0a22a" stroke-width="0.7" fill="none"/>
<path d="M253.93 447.90L262.44 443.76L262.44 452.04Z" fill="none" stroke="#f0a22a" stroke-width="1.25"/><path d="M254.62 447.90H261.98M258.30 444.22V451.58" stroke="#f0a22a" stroke-width="0.7" fill="none"/>
<path d="M492.21 453.80L500.72 449.66L500.72 457.94Z" fill="none" stroke="#f0a22a" stroke-width="1.25"/><path d="M492.90 453.80H500.26M496.58 450.12V457.48" stroke="#f0a22a" stroke-width="0.7" fill="none"/>
<path d="M157 601.5H178" stroke="#b92b45" stroke-width="1.15"/>
<circle cx="167.70" cy="601.50" r="4.50" fill="none" stroke="#b92b45" stroke-width="1.25"/>
<text x="182" y="604.5" font-size="8.5" fill="#1e1e1e" stroke="#1e1e1e" stroke-width="0.18">Mezagitamab 45 mg</text>
<path d="M157 615.5H178" stroke="#603f7c" stroke-width="1.15"/>
<rect x="163.42" y="611.23" width="8.55" height="8.55" fill="none" stroke="#603f7c" stroke-width="1.25"/>
<text x="182" y="618.5" font-size="8.5" fill="#1e1e1e" stroke="#1e1e1e" stroke-width="0.18">Mezagitamab 300 mg</text>
<path d="M157 629.7H178" stroke="#3ab4dc" stroke-width="1.15"/>
<path d="M167.70 633.98L171.97 625.65L163.42 625.65Z" fill="none" stroke="#3ab4dc" stroke-width="1.25"/>
<text x="182" y="632.7" font-size="8.5" fill="#1e1e1e" stroke="#1e1e1e" stroke-width="0.18">Mezagitamab 1200 mg</text>
<path d="M276 601.5H297" stroke="#214578" stroke-width="1.15"/>
<path d="M286.70 597.23L290.97 605.55L282.43 605.55Z" fill="none" stroke="#214578" stroke-width="1.25"/>
<text x="301" y="604.5" font-size="8.5" fill="#1e1e1e" stroke="#1e1e1e" stroke-width="0.18">Mezagitamab 135 mg</text>
<path d="M276 615.5H297" stroke="#42a444" stroke-width="1.15"/>
<path d="M281.21 615.50L286.70 610.01L292.19 615.50L286.70 620.99Z" fill="none" stroke="#42a444" stroke-width="1.25"/>
<text x="301" y="618.5" font-size="8.5" fill="#1e1e1e" stroke="#1e1e1e" stroke-width="0.18">Mezagitamab 600 mg</text>
<path d="M276 629.7H297" stroke="#f0a22a" stroke-width="1.15"/>
<path d="M282.43 629.70L290.75 625.65L290.75 633.75Z" fill="none" stroke="#f0a22a" stroke-width="1.25"/>
<text x="301" y="632.7" font-size="8.5" fill="#1e1e1e" stroke="#1e1e1e" stroke-width="0.18">Mezagitamab 300 mg + PomDex</text>
<rect x="0.5" y="0.5" width="519" height="642" fill="none" stroke="#444" stroke-width="1.2"/>
</svg>
</body></html>
